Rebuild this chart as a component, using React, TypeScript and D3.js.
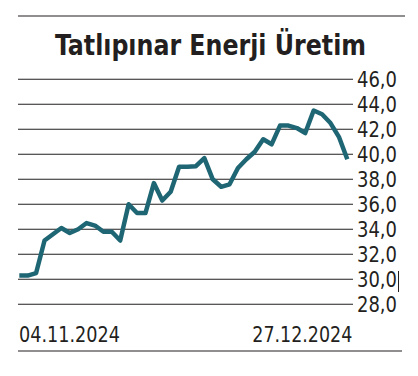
import React from "react";
import * as d3 from "d3";

const title = "Tatlıpınar Enerji Üretim";
const startLabel = "04.11.2024";
const endLabel = "27.12.2024";
const yTicks = [28, 30, 32, 34, 36, 38, 40, 42, 44, 46];
const values = [
  30.3, 30.3, 30.5, 33.1, 33.6, 34.1, 33.7, 34.0, 34.5, 34.3,
  33.8, 33.8, 33.1, 36.0, 35.3, 35.3, 37.7, 36.3, 37.0, 39.0,
  39.0, 39.05, 39.7, 38.0, 37.4, 37.6, 38.9, 39.6, 40.2, 41.2,
  40.8, 42.3, 42.3, 42.1, 41.7, 43.5, 43.2, 42.5, 41.4, 39.6,
];

const W = 418;
const H = 376;
const FONT = "'Liberation Sans Narrow', 'DejaVu Sans Condensed', 'Roboto', sans-serif";
const INK = "#231f20";

export default function App() {
  const x = d3.scaleLinear().domain([0, values.length - 1]).range([19.3, 347.3]);
  const y = d3.scaleLinear().domain([28, 46]).range([304.3, 79.3]);
  const line = d3
    .line<number>()
    .x((_, i) => x(i))
    .y((d) => y(d));

  return (
    <svg
      width={W}
      height={H}
      style={{ position: "absolute", left: 0, top: 0, background: "#fff" }}
    >
      <line x1={18} x2={405} y1={16} y2={16} stroke={INK} strokeWidth={1.2} />
      <text
        x={55}
        y={54.5}
        fontFamily={FONT}
        fontWeight="bold"
        fontSize={29}
        fill={INK}
        textLength={311}
        lengthAdjust="spacingAndGlyphs"
      >
        {title}
      </text>
      {yTicks.map((t) => (
        <g key={t}>
          <line x1={18} x2={353} y1={y(t)} y2={y(t)} stroke={INK} strokeWidth={1.1} />
          <text
            x={357}
            y={y(t) + 7.5}
            fontFamily={FONT}
            fontSize={21}
            fill={INK}
            textLength={40}
            lengthAdjust="spacingAndGlyphs"
          >
            {d3.format(".1f")(t).replace(".", ",")}
          </text>
        </g>
      ))}
      <line x1={398.5} x2={398.5} y1={271} y2={292} stroke={INK} strokeWidth={1} />
      <path
        d={line(values) || ""}
        fill="none"
        stroke="#1f6674"
        strokeWidth={4.5}
        strokeLinejoin="round"
        strokeLinecap="butt"
      />
      <text
        x={19}
        y={341.7}
        fontFamily={FONT}
        fontSize={22}
        fill={INK}
        textLength={101}
        lengthAdjust="spacingAndGlyphs"
      >
        {startLabel}
      </text>
      <text
        x={252.3}
        y={341.7}
        fontFamily={FONT}
        fontSize={22}
        fill={INK}
        textLength={100}
        lengthAdjust="spacingAndGlyphs"
      >
        {endLabel}
      </text>
      <line x1={18} x2={402} y1={351} y2={351} stroke={INK} strokeWidth={1.2} />
    </svg>
  );
}
